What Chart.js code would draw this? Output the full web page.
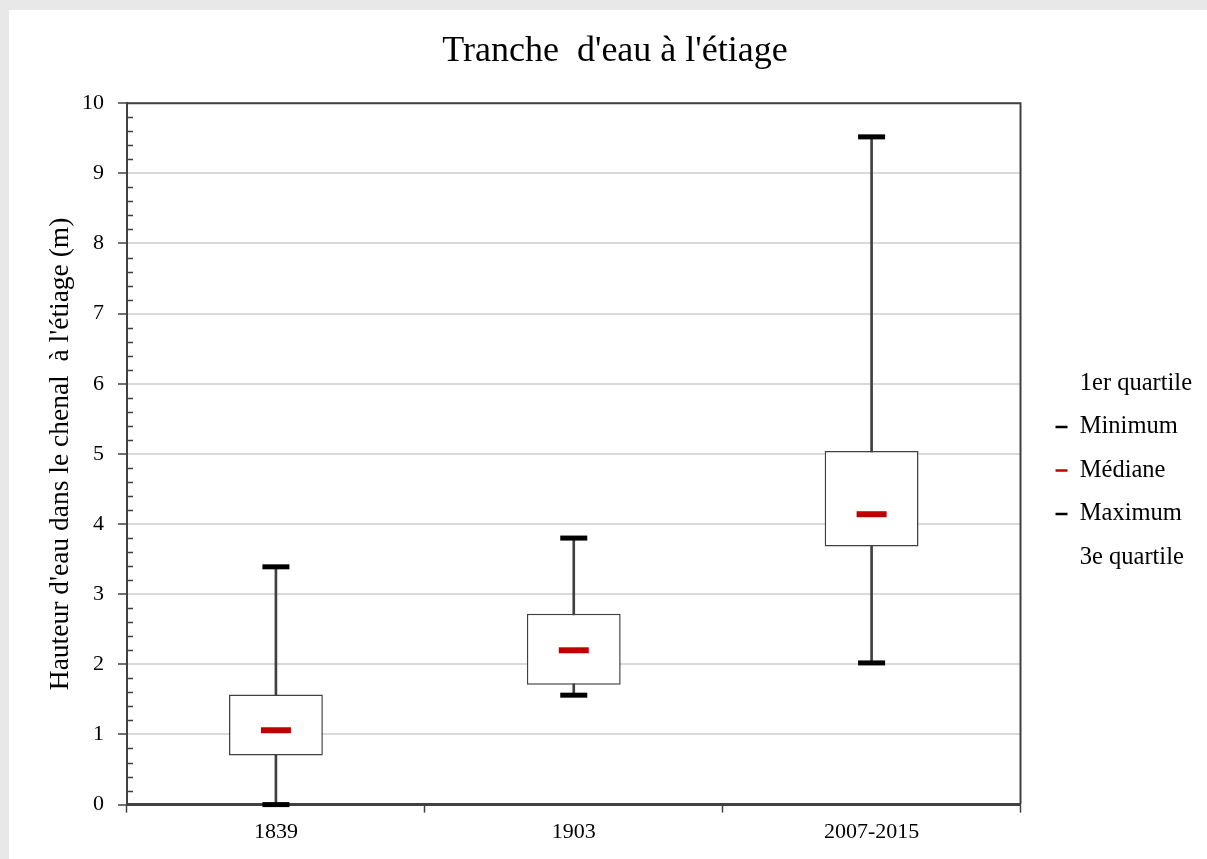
<!DOCTYPE html>
<html lang="fr">
<head>
<meta charset="utf-8">
<title>Tranche d'eau à l'étiage</title>
<script src="https://cdn.jsdelivr.net/npm/chart.js@4.4.1/dist/chart.umd.min.js"></script>
<style>
  html, body { margin: 0; padding: 0; background: #e8e8e8; }
  #wrap { position: absolute; left: 9px; top: 10px; width: 1198px; height: 849px; background: #fff; }
</style>
</head>
<body>
<div id="wrap"><canvas id="myChart"></canvas></div>
<script>
const categories = ['1839', '1903', '2007-2015'];
const premierQuartile = [0.70, 1.71, 3.68];
const minimum = [0.00, 1.56, 2.02];
const mediane = [1.06, 2.20, 4.14];
const maximum = [3.39, 3.80, 9.52];
const troisiemeQuartile = [1.57, 2.72, 5.04];

const serif = "'Liberation Serif', 'Times New Roman', serif";
const axisGrey = '#404040';

// cadre du graphique + petites graduations de l'axe vertical
const plotFrame = {
  id: 'plotFrame',
  afterDraw(chart) {
    const {ctx, chartArea: a, scales: {y}} = chart;
    ctx.save();
    ctx.strokeStyle = axisGrey;
    ctx.lineWidth = 2;
    ctx.beginPath();
    ctx.moveTo(a.left, a.top);
    ctx.lineTo(a.right, a.top);
    ctx.lineTo(a.right, a.bottom);
    ctx.stroke();
    ctx.lineWidth = 1.5;
    ctx.beginPath();
    for (let i = 1; i < 50; i++) {
      if (i % 5 === 0) continue;
      const py = Math.round(y.getPixelForValue(i / 5)) + 0.5;
      ctx.moveTo(a.left, py);
      ctx.lineTo(a.left + 6, py);
    }
    ctx.stroke();
    ctx.restore();
  }
};

const pairs = (lo, hi) => lo.map((v, i) => [v, hi[i]]);

new Chart(document.getElementById('myChart').getContext('2d'), {
  data: {
    labels: categories,
    datasets: [{
      type: 'line',
      label: '1er quartile',
      data: premierQuartile,
      showLine: false,
      pointRadius: 0,
      borderColor: 'rgba(0,0,0,0)',
      order: 0
    }, {
      type: 'line',
      label: 'Minimum',
      data: minimum,
      showLine: false,
      pointStyle: 'line',
      pointRadius: 13.5,
      pointBorderWidth: 5,
      borderColor: '#000',
      clip: false,
      order: 0
    }, {
      type: 'line',
      label: 'Médiane',
      data: mediane,
      showLine: false,
      pointStyle: 'line',
      pointRadius: 15,
      pointBorderWidth: 6,
      borderColor: '#c00000',
      clip: false,
      order: 0
    }, {
      type: 'line',
      label: 'Maximum',
      data: maximum,
      showLine: false,
      pointStyle: 'line',
      pointRadius: 13.5,
      pointBorderWidth: 5,
      borderColor: '#000',
      clip: false,
      order: 0
    }, {
      type: 'line',
      label: '3e quartile',
      data: troisiemeQuartile,
      showLine: false,
      pointRadius: 0,
      borderColor: 'rgba(0,0,0,0)',
      order: 0
    }, {
      type: 'bar',
      label: 'boite',
      data: pairs(premierQuartile, troisiemeQuartile),
      backgroundColor: '#fff',
      borderColor: axisGrey,
      borderWidth: 1.5,
      borderSkipped: false,
      grouped: false,
      barPercentage: 0.315,
      categoryPercentage: 1,
      order: 1
    }, {
      type: 'bar',
      label: 'moustache',
      data: pairs(minimum, maximum),
      backgroundColor: axisGrey,
      barThickness: 2,
      grouped: false,
      order: 2
    }]
  },
  options: {
    responsive: true,
    maintainAspectRatio: false,
    animation: false,
    layout: { padding: { left: 19, right: 5, top: 0, bottom: 8 } },
    plugins: {
      title: {
        display: true,
        text: "Tranche  d'eau à l'étiage",
        color: '#000',
        font: { family: serif, size: 36, weight: 'normal' },
        padding: { top: 20, bottom: 30 }
      },
      tooltip: { enabled: false },
      legend: {
        position: 'right',
        title: { display: true, text: ' ', font: { size: 10 }, padding: { top: 34, bottom: 34 } },
        labels: {
          color: '#000',
          font: { family: serif, size: 24.5 },
          usePointStyle: true,
          pointStyleWidth: 12,
          padding: 19,
          filter: item => item.datasetIndex < 5,
          generateLabels(chart) {
            const items = Chart.defaults.plugins.legend.labels.generateLabels(chart);
            items.forEach(it => {
              it.pointStyle = 'line';
              it.lineWidth = 2.5;
              if (it.datasetIndex === 0 || it.datasetIndex === 4) {
                it.strokeStyle = 'rgba(0,0,0,0)';
              }
            });
            return items;
          }
        }
      }
    },
    scales: {
      x: {
        offset: true,
        grid: {
          offset: true,
          drawOnChartArea: false,
          tickLength: 8,
          tickColor: axisGrey,
          tickWidth: 1.5
        },
        border: { color: axisGrey, width: 3 },
        ticks: { color: '#000', font: { family: serif, size: 22 }, padding: 6 }
      },
      y: {
        min: 0,
        max: 10,
        ticks: { stepSize: 1, color: '#000', font: { family: serif, size: 22 }, padding: 14 },
        grid: {
          color: '#d9d9d9',
          lineWidth: 2,
          tickLength: 9,
          tickColor: axisGrey,
          tickWidth: 1.5
        },
        border: { color: axisGrey, width: 2 },
        title: {
          display: true,
          text: "Hauteur d'eau dans le chenal  à l'étiage (m)",
          color: '#000',
          font: { family: serif, size: 27.5 },
          padding: { top: 16, bottom: 5 }
        },
        afterFit(scale) { scale.width -= 14; }
      },
      // axe vide à droite : simple marge entre le graphique et la légende
      yMarge: {
        position: 'right',
        display: true,
        grid: { display: false },
        border: { display: false },
        ticks: { display: false },
        afterFit(scale) { scale.width = 16; }
      }
    }
  },
  plugins: [plotFrame]
});
</script>
</body>
</html>
